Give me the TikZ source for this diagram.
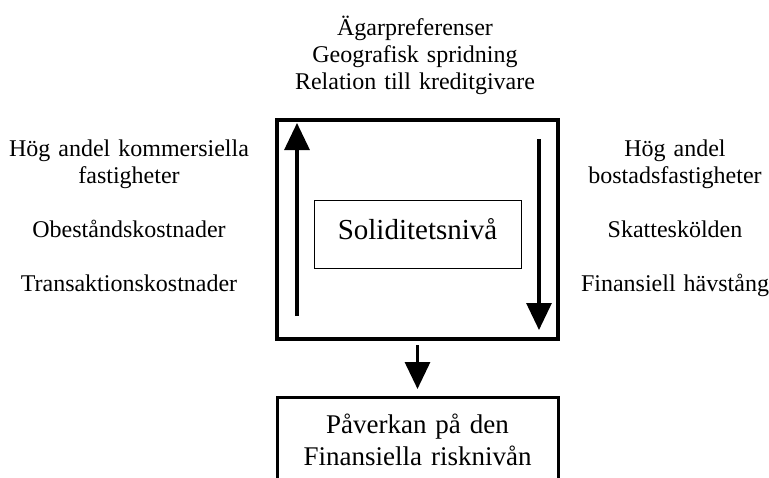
\documentclass[tikz,border=0pt]{standalone}
\usepackage{fontspec}
\setmainfont[WordSpace=0.8]{Liberation Serif}
\usetikzlibrary{arrows.meta}
\begin{document}
\begin{tikzpicture}[x=1pt,y=-1pt,
  lbl/.style={font=\fontsize{24}{27}\selectfont, text width=280pt, align=center, anchor=base, inner sep=0pt},
  bigbox/.style={draw, line width=4pt, minimum width=281pt, minimum height=219pt, inner sep=0pt, outer sep=0pt},
  solbox/.style={draw, line width=1pt, minimum width=207pt, minimum height=68pt, inner sep=0pt, outer sep=0pt, text depth=10pt, font=\fontsize{29}{34}\selectfont},
  resbox/.style={draw, line width=3pt, anchor=north, text width=275pt, inner xsep=3pt, inner ysep=17pt, outer sep=0pt, align=center, font=\fontsize{27}{32}\selectfont},
  flow/.style={line width=3.2pt, -{Triangle[length=27pt,width=25pt]}}
]
\clip (0,0) rectangle (769,477);
\node[bigbox] (main) at (417.5,229.5) {};
\node[solbox] (sol) at (417.5,234) {Soliditetsnivå};
\node[resbox] (res) at (417.5,397) {Påverkan på den\\Finansiella risknivån};
\node[lbl] (top) at (415,35) {Ägarpreferenser\\Geografisk spridning\\Relation till kreditgivare};
\node[lbl, text width=270pt] (left) at (129,156) {Hög andel kommersiella\\fastigheter\\[27pt]Obeståndskostnader\\[27pt]Transaktionskostnader};
\node[lbl, text width=220pt] (right) at (675,156) {Hög andel\\bostadsfastigheter\\[27pt]Skatteskölden\\[27pt]Finansiell hävstång};
\coordinate (la1) at (297,316);
\coordinate (la2) at (297,123);
\coordinate (ra1) at (539,139);
\coordinate (ra2) at (539,330);
\draw[flow] (la1) -- (la2);
\draw[flow] (ra1) -- (ra2);
\draw[flow, shorten <=6pt, shorten >=8pt] (main.south) -- (res.north);
\end{tikzpicture}
\end{document}
